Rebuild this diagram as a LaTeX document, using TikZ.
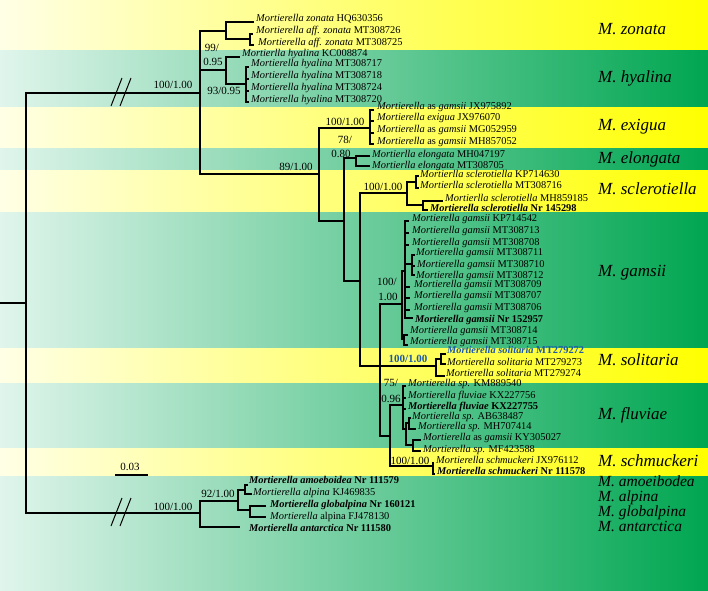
\documentclass[tikz,border=0pt]{standalone}
\usepackage{fontspec}
\setmainfont{Liberation Serif}
\usetikzlibrary{calc}
\definecolor{yl}{HTML}{FFFFE6}
\definecolor{ym}{HTML}{FFFF8C}
\definecolor{yr}{HTML}{FFFF00}
\definecolor{gl}{HTML}{E0F5EC}
\definecolor{gm}{HTML}{74D2A3}
\definecolor{gr}{HTML}{00A651}
\definecolor{solblue}{HTML}{1E5AAA}
\newcommand{\ti}[1]{\textit{#1}}
\begin{document}
\begin{tikzpicture}[x=1pt,y=-1pt,
  br/.style={line width=1.6pt},
  tip/.style={anchor=west, inner sep=0pt, font=\fontsize{10.4}{12}\selectfont, text height=6.5pt, text depth=1.5pt},
  btip/.style={tip, font=\fontsize{10.4}{12}\selectfont\bfseries},
  supp/.style={inner sep=0pt, font=\fontsize{11}{13}\selectfont},
  clade/.style={anchor=west, inner sep=0pt, font=\fontsize{17}{20}\selectfont\itshape},
  sclade/.style={anchor=west, inner sep=0pt, font=\fontsize{15.5}{18}\selectfont\itshape, text height=8pt, text depth=1pt},
  yband/.style={left color=yl, middle color=ym, right color=yr},
  gband/.style={left color=gl, middle color=gm, right color=gr}]
\useasboundingbox (0,0) rectangle (708,590);
% bands
\fill[gband] (0,0) rectangle (708,590);
\fill[yband] (0,0) rectangle (708,49);
\fill[yband] (0,107) rectangle (708,147);
\fill[yband] (0,170) rectangle (708,211);
\fill[yband] (0,348) rectangle (708,382);
\fill[yband] (0,448) rectangle (708,475);
% internal nodes
\coordinate (R0) at (0,303);
\coordinate (R) at (26,303);
\coordinate (A) at (200,93);
\coordinate (K) at (200,513);
\coordinate (Z) at (226,31);
\coordinate (Z2) at (250,39);
\coordinate (Hy) at (226,70);
\coordinate (Hy2) at (246,84);
\coordinate (B) at (319,174);
\coordinate (Ex) at (370,128);
\coordinate (C) at (344,221);
\coordinate (El) at (356,158);
\coordinate (D) at (360,281);
\coordinate (Sc) at (407,193);
\coordinate (Sc1) at (416,182);
\coordinate (Sc2) at (423,205);
\coordinate (F) at (380,366);
\coordinate (G) at (402,304);
\coordinate (G1) at (405,271);
\coordinate (G1a) at (412,264);
\coordinate (G2) at (404,339);
\coordinate (S) at (436,366);
\coordinate (S1) at (441,359);
\coordinate (H) at (390,436);
\coordinate (Fl) at (403,405);
\coordinate (Fl1) at (406,429);
\coordinate (Fl1a) at (409,423);
\coordinate (Fl1b) at (413,445);
\coordinate (Sm) at (433,466);
\coordinate (L) at (238,501);
\coordinate (M) at (245,490);
\coordinate (N) at (250,510);
% tip ends
\coordinate (t1) at (254,22);
\coordinate (t2) at (253,34);
\coordinate (t3) at (254,45);
\coordinate (t4) at (240,57);
\coordinate (t5) at (249,67);
\coordinate (t6) at (249,79);
\coordinate (t7) at (249,91);
\coordinate (t8) at (249,102);
\coordinate (t9) at (374,110);
\coordinate (t10) at (374,121);
\coordinate (t11) at (374,133);
\coordinate (t12) at (374,144);
\coordinate (t13) at (370,156);
\coordinate (t14) at (370,166);
\coordinate (t15) at (419,176);
\coordinate (t16) at (419,188);
\coordinate (t17) at (443,201);
\coordinate (t18) at (428,210);
\coordinate (t19) at (409,221);
\coordinate (t20) at (409,233);
\coordinate (t21) at (409,245);
\coordinate (t22) at (415,255);
\coordinate (t23) at (415,266);
\coordinate (t24) at (415,275);
\coordinate (t25) at (410,287);
\coordinate (t26) at (410,298);
\coordinate (t27) at (410,310);
\coordinate (t28) at (413,318);
\coordinate (t29) at (408,335);
\coordinate (t30) at (408,345);
\coordinate (t31) at (446,354);
\coordinate (t32) at (446,364);
\coordinate (t33) at (445,376);
\coordinate (t34) at (406,386);
\coordinate (t35) at (406,398);
\coordinate (t36) at (406,409);
\coordinate (t37) at (411,418);
\coordinate (t38) at (416,429);
\coordinate (t39) at (421,440);
\coordinate (t40) at (421,451);
\coordinate (t41) at (434,463);
\coordinate (t42) at (435,474);
\coordinate (t43) at (248,485);
\coordinate (t44) at (252,494);
\coordinate (t45) at (266,506);
\coordinate (t46) at (266,517);
\coordinate (t47) at (240,527);
\coordinate (bar1) at (115,475);
\coordinate (bar2) at (148,475);
% branches
\begin{scope}[br]
\draw (R0) -- (R);
\draw (A) -| (R) |- (K);
\draw (Z) -| (A) |- (B);
\draw (A|-Hy) -- (Hy);
\draw (t1) -| (Z) |- (Z2);
\draw (t2) -| (Z2) |- (t3);
\draw (t4) -| (Hy) |- (Hy2);
\draw (t5) -| (Hy2) |- (t8);
\draw (Hy2|-t6) -- (t6);
\draw (Hy2|-t7) -- (t7);
\draw (Ex) -| (B) |- (C);
\draw (t9) -| (Ex) |- (t12);
\draw (Ex|-t10) -- (t10);
\draw (Ex|-t11) -- (t11);
\draw (El) -| (C) |- (D);
\draw (t13) -| (El) |- (t14);
\draw (Sc) -| (D) |- (F);
\draw (Sc1) -| (Sc) |- (Sc2);
\draw (t15) -| (Sc1) |- (t16);
\draw (t17) -| (Sc2) |- (t18);
\draw (G) -| (F) |- (H);
\draw (F|-S) -- (S);
\draw (G1) -| (G) |- (G2);
\draw (t19) -| (G1) |- (t28);
\draw (G1|-t20) -- (t20);
\draw (G1|-t21) -- (t21);
\draw (G1|-G1a) -- (G1a);
\draw (G1|-t25) -- (t25);
\draw (G1|-t26) -- (t26);
\draw (G1|-t27) -- (t27);
\draw (t22) -| (G1a) |- (t24);
\draw (G1a|-t23) -- (t23);
\draw (t29) -| (G2) |- (t30);
\draw (S1) -| (S) |- (t33);
\draw (t31) -| (S1) |- (t32);
\draw (Fl) -| (H) |- (Sm);
\draw (t34) -| (Fl) |- (Fl1);
\draw (Fl|-t35) -- (t35);
\draw (Fl|-t36) -- (t36);
\draw (Fl1a) -| (Fl1) |- (Fl1b);
\draw (t37) -| (Fl1a) |- (t38);
\draw (t39) -| (Fl1b) |- (t40);
\draw (t41) -| (Sm) |- (t42);
\draw (L) -| (K) |- (t47);
\draw (M) -| (L) |- (N);
\draw (t43) -| (M) |- (t44);
\draw (t45) -| (N) |- (t46);
\draw (bar1) -- (bar2);
\end{scope}
% break marks
\begin{scope}[line width=1pt]
\draw (111,106) -- (122,78);
\draw (120,106) -- (131,78);
\draw (111,526) -- (122,498);
\draw (120,526) -- (131,498);
\end{scope}
% support labels
\node[supp] (s1) at (173,85) {100/1.00};
\node[supp] (s2) at (212,48) {99/};
\node[supp] (s3) at (213,62) {0.95};
\node[supp] (s4) at (224,91) {93/0.95};
\node[supp] (s5) at (345,122) {100/1.00};
\node[supp] (s6) at (345,140) {78/};
\node[supp] (s7) at (341,154) {0.80};
\node[supp] (s8) at (296,167) {89/1.00};
\node[supp] (s9) at (383,187) {100/1.00};
\node[supp] (s10) at (387,282) {100/};
\node[supp] (s11) at (388,297) {1.00};
\node[supp, text=solblue, font=\fontsize{11}{13}\selectfont\bfseries] (s12) at (408,359) {100/1.00};
\node[supp] (s13) at (391,383) {75/};
\node[supp] (s14) at (391,399) {0.96};
\node[supp] (s15) at (410,461) {100/1.00};
\node[supp] (s16) at (218,494) {92/1.00};
\node[supp] (s17) at (173,507) {100/1.00};
\node[supp] (s18) at (130,467) {0.03};
% tip labels
\node[tip] (l1) at (256,19) {\ti{Mortierella zonata} HQ630356};
\node[tip] (l2) at (256,31) {\ti{Mortierella aff. zonata} MT308726};
\node[tip] (l3) at (258,43) {\ti{Mortierella aff. zonata} MT308725};
\node[tip] (l4) at (242,54) {\ti{Mortierlla hyalina} KC008874};
\node[tip] (l5) at (251,64) {\ti{Mortierella hyalina} MT308717};
\node[tip] (l6) at (251,76) {\ti{Mortierella hyalina} MT308718};
\node[tip] (l7) at (251,88) {\ti{Mortierella hyalina} MT308724};
\node[tip] (l8) at (251,100) {\ti{Mortierella hyalina} MT308720};
\node[tip] (l9) at (377,107) {\ti{Mortierella} as \ti{gamsii} JX975892};
\node[tip] (l10) at (377,118) {\ti{Mortierella exigua} JX976070};
\node[tip] (l11) at (377,130) {\ti{Mortierella} as \ti{gamsii} MG052959};
\node[tip] (l12) at (377,142) {\ti{Mortierella} as \ti{gamsii} MH857052};
\node[tip] (l13) at (372,155) {\ti{Mortierlla elongata} MH047197};
\node[tip] (l14) at (372,166) {\ti{Mortierlla elongata} MT308705};
\node[tip] (l15) at (420,175) {\ti{Mortierlla sclerotiella} KP714630};
\node[tip] (l16) at (420,186) {\ti{Mortierlla sclerotiella} MT308716};
\node[tip] (l17) at (445,199) {\ti{Mortierlla sclerotiella} MH859185};
\node[btip] (l18) at (430,209) {\ti{Mortierella sclerotiella} Nr 145298};
\node[tip] (l19) at (412,219) {\ti{Mortierella gamsii} KP714542};
\node[tip] (l20) at (412,231) {\ti{Mortierella gamsii} MT308713};
\node[tip] (l21) at (412,243) {\ti{Mortierella gamsii} MT308708};
\node[tip] (l22) at (416,253) {\ti{Mortierella gamsii} MT308711};
\node[tip] (l23) at (417,265) {\ti{Mortierella gamsii} MT308710};
\node[tip] (l24) at (416,276) {\ti{Mortierella gamsii} MT308712};
\node[tip] (l25) at (414,285) {\ti{Mortierella gamsii} MT308709};
\node[tip] (l26) at (414,296) {\ti{Mortierella gamsii} MT308707};
\node[tip] (l27) at (414,308) {\ti{Mortierella gamsii} MT308706};
\node[btip] (l28) at (415,320) {\ti{Mortierella gamsii} Nr 152957};
\node[tip] (l29) at (410,331) {\ti{Mortierella gamsii} MT308714};
\node[tip] (l30) at (410,342) {\ti{Mortierella gamsii} MT308715};
\node[btip, text=solblue] (l31) at (447,351) {\ti{Mortierella solitaria} MT279272};
\node[tip] (l32) at (447,363) {\ti{Mortierella solitaria} MT279273};
\node[tip] (l33) at (446,374) {\ti{Mortierella solitaria} MT279274};
\node[tip] (l34) at (408,384) {\ti{Mortierella sp.} KM889540};
\node[tip] (l35) at (408,396) {\ti{Mortierella fluviae} KX227756};
\node[btip] (l36) at (408,407) {\ti{Mortierella fluviae} KX227755};
\node[tip] (l37) at (412,417) {\ti{Mortierella sp.} AB638487};
\node[tip] (l38) at (418,427) {\ti{Mortierella sp.} MH707414};
\node[tip] (l39) at (423,438) {\ti{Mortierella} as \ti{gamsii} KY305027};
\node[tip] (l40) at (423,450) {\ti{Mortierella sp.} MF423588};
\node[tip] (l41) at (436,461) {\ti{Mortierella schmuckeri} JX976112};
\node[btip] (l42) at (437,472) {\ti{Mortierella schmuckeri} Nr 111578};
\node[btip] (l43) at (249,481) {\ti{Mortierella amoeboidea} Nr 111579};
\node[tip] (l44) at (253,493) {\ti{Mortierella alpina} KJ469835};
\node[btip] (l45) at (270,505) {\ti{Mortierella globalpina} Nr 160121};
\node[tip] (l46) at (270,517) {\ti{Mortierella} alpina FJ478130};
\node[btip] (l47) at (249,529) {\ti{Mortierella antarctica} Nr 111580};
% clade labels
\node[clade] (c1) at (598,29) {M. zonata};
\node[clade] (c2) at (598,78) {M. hyalina};
\node[clade] (c3) at (598,127) {M. exigua};
\node[clade] (c4) at (598,159) {M. elongata};
\node[clade] (c5) at (598,189) {M. sclerotiella};
\node[clade] (c6) at (598,273) {M. gamsii};
\node[clade] (c7) at (598,360) {M. solitaria};
\node[clade] (c8) at (598,415) {M. fluviae};
\node[clade] (c9) at (598,461) {M. schmuckeri};
\node[sclade] (c10) at (598,483) {M. amoeibodea};
\node[sclade] (c11) at (598,498) {M. alpina};
\node[sclade] (c12) at (598,513) {M. globalpina};
\node[sclade] (c13) at (598,528) {M. antarctica};
\end{tikzpicture}
\end{document}
